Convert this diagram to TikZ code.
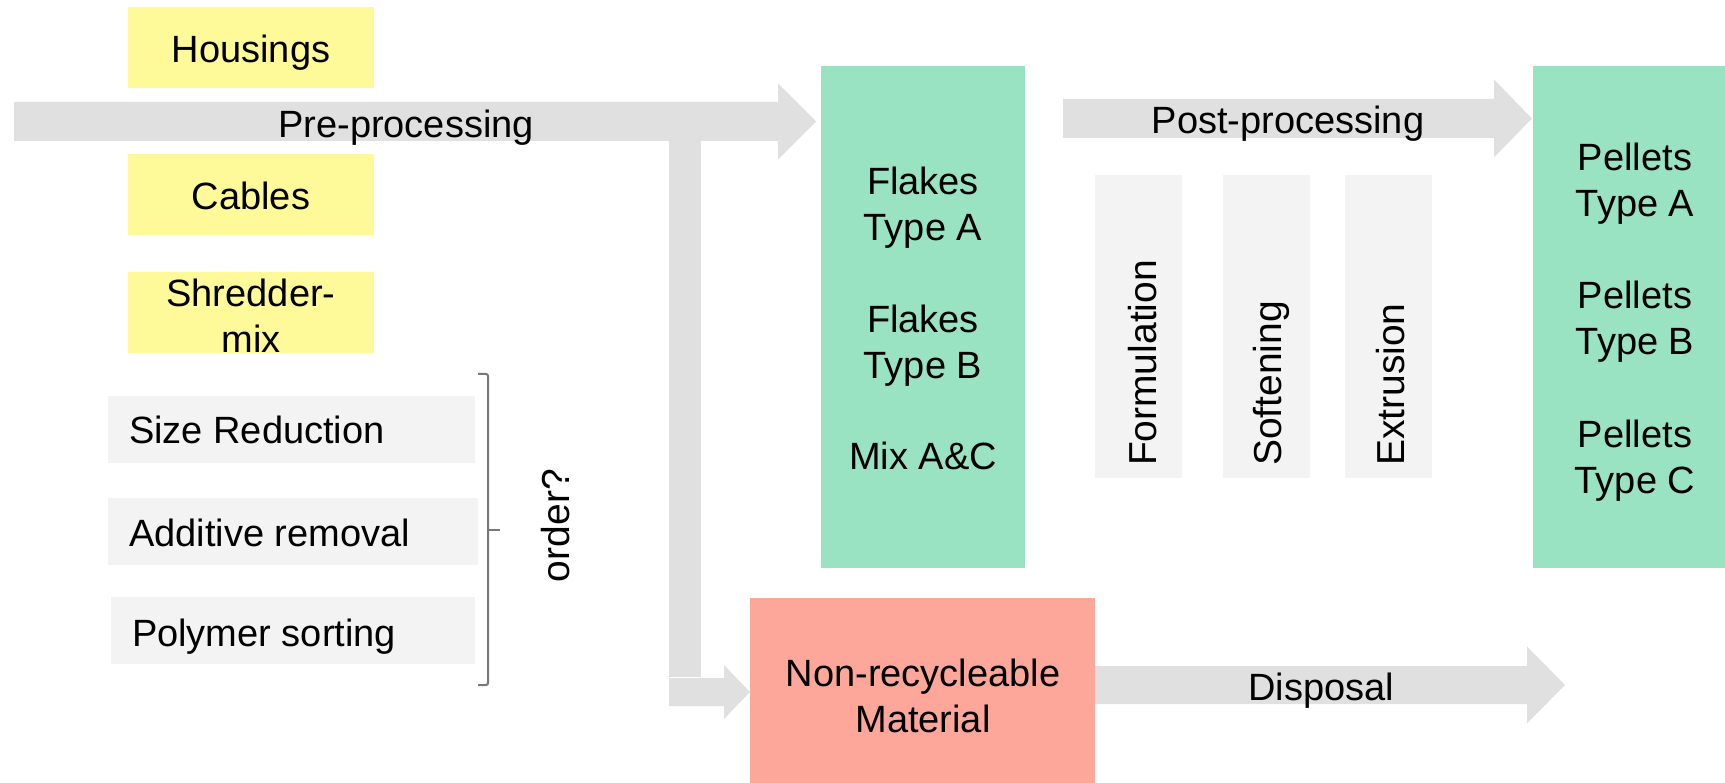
\documentclass[tikz,border=0pt]{standalone}
\usepackage{fontspec}
\setmainfont{Liberation Sans}
\definecolor{arrowgray}{RGB}{224,224,224}
\definecolor{stepgray}{RGB}{243,243,243}
\definecolor{sourceyellow}{RGB}{255,250,153}
\definecolor{productgreen}{RGB}{154,227,194}
\definecolor{wastered}{RGB}{252,167,153}
\definecolor{bracegray}{RGB}{120,120,120}
% block arrow: start x, head start x, tip x, centre y, half shaft, half head
\newcommand\fatarrow[6]{%
  \fill[arrowgray] (#1,#4-#5) -- (#2,#4-#5) -- (#2,#4-#6) -- (#3,#4)
    -- (#2,#4+#6) -- (#2,#4+#5) -- (#1,#4+#5) -- cycle;}
\begin{document}
\begin{tikzpicture}[x=1pt,y=-1pt,
  panel/.style={draw=none,inner sep=0pt,outer sep=0pt,anchor=north west},
  source/.style={panel,fill=sourceyellow,minimum width=246pt,minimum height=81pt},
  stepbox/.style={panel,fill=stepgray,minimum height=67pt},
  poststep/.style={panel,fill=stepgray,minimum width=87pt,minimum height=303pt},
  label/.style={inner sep=0pt,outer sep=0pt,font=\fontsize{38}{46}\selectfont,align=center},
  vlabel/.style={inner sep=0pt,outer sep=0pt,font=\fontsize{39}{46}\selectfont,rotate=90,anchor=base west}]
\useasboundingbox (0,0) rectangle (1725,783);

% ---- flow arrows ----
\coordinate (pre-start) at (14,121.5);
\coordinate (pre-tip) at (816,121.5);
\fatarrow{14}{778}{816}{121.5}{19.5}{38}
% branch down to the reject stream
\fill[arrowgray] (669,141) rectangle (701,677);
\fatarrow{669}{724}{750}{692}{14}{27}
\fatarrow{1063}{1494}{1532}{118.5}{19.5}{39}
\fatarrow{1095}{1527}{1565}{685}{19}{38.5}

% ---- input material ----
\node[source] (housings) at (128,7) {};
\node[source] (cables) at (128,154) {};
\node[source] (shredder) at (128,272) {};
\node[label,anchor=base] (housings-t) at (251,63) {Housings};
\node[label,anchor=base] (cables-t) at (251,210) {Cables};
\node[label] (shredder-t) at (251,316) {Shredder-\\mix};

% ---- pre-processing steps ----
\node[stepbox,minimum width=367pt] (sizered) at (108,396) {};
\node[stepbox,minimum width=370pt] (additive) at (108,498) {};
\node[stepbox,minimum width=364pt] (polymer) at (111,597) {};
\node[label,anchor=base west] (sizered-t) at (129,444) {Size Reduction};
\node[label,anchor=base west] (additive-t) at (129,546) {Additive removal};
\node[label,anchor=base west] (polymer-t) at (132,646) {Polymer sorting};

% brace grouping the three steps
\draw[bracegray,line width=2pt,rounded corners=2pt]
  (478,374) -- (488,374) -- (488,685) -- (478,685);
\draw[bracegray,line width=2pt] (488,530) -- (500,530);
\node[vlabel] (order) at (569,582) {order?};

% ---- flakes ----
\node[panel,fill=productgreen,minimum width=204pt,minimum height=502pt] (flakes) at (821,66) {};
\node[label] (flakesA) at (923,208) {Flakes\\Type A};
\node[label] (flakesB) at (923,345.5) {Flakes\\Type B};
\node[label,anchor=base] (mixAC) at (923,470) {Mix A\&C};

% ---- post-processing ----
\node[label,anchor=base] (post-t) at (1288,134) {Post-processing};
\node[label,anchor=base] (pre-t) at (406,137.5) {Pre-processing};
\node[poststep] (formulation) at (1095,175) {};
\node[poststep] (softening) at (1223,175) {};
\node[poststep] (extrusion) at (1345,175) {};
\node[vlabel] (formulation-t) at (1156,466) {Formulation};
\node[vlabel] (softening-t) at (1281,466) {Softening};
\node[vlabel] (extrusion-t) at (1404,466) {Extrusion};

% ---- pellets ----
\node[panel,fill=productgreen,minimum width=192pt,minimum height=502pt] (pellets) at (1533,66) {};
\node[label] (pelletsA) at (1635,183.5) {Pellets\\Type A};
\node[label] (pelletsB) at (1635,321.5) {Pellets\\Type B};
\node[label] (pelletsC) at (1635,460.5) {Pellets\\Type C};

% ---- reject stream ----
\node[panel,fill=wastered,minimum width=345pt,minimum height=185pt] (nonrec) at (750,598) {};
\node[label] (nonrec-t) at (923,696) {Non-recycleable\\Material};
\node[label,anchor=base] (disposal-t) at (1321,700) {Disposal};
\end{tikzpicture}
\end{document}
